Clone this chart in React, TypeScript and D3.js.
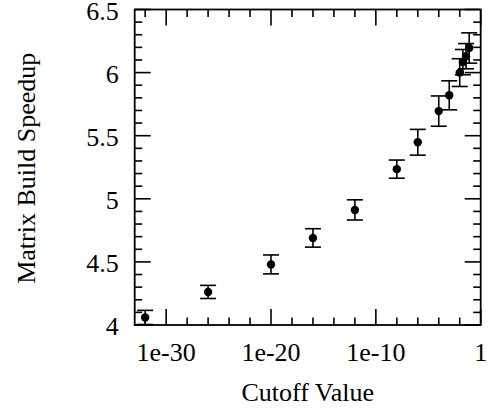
import React from "react";
import * as d3 from "d3";

const cutoffs = [1e-32, 1e-26, 1e-20, 1e-16, 1e-12, 1e-8, 1e-6, 1e-4, 1e-3, 1e-2, 2e-2, 4e-2, 8e-2];
const speedup = [4.06, 4.262, 4.48, 4.69, 4.912, 5.235, 5.448, 5.695, 5.82, 6.0, 6.083, 6.13, 6.195];
const errors = [0.056, 0.052, 0.075, 0.073, 0.08, 0.072, 0.102, 0.12, 0.115, 0.11, 0.1, 0.1, 0.12];

const xMajorExp = [-30, -20, -10, 0];
const xMajorLabels = ["1e-30", "1e-20", "1e-10", "1"];
const yMajor = [4, 4.5, 5, 5.5, 6, 6.5];
const yMajorLabels = ["4", "4.5", "5", "5.5", "6", "6.5"];

const W = 493;
const H = 410;
const M = { left: 134.7, right: 12.3, top: 9.5, bottom: 85 };
const FONT = "'Liberation Serif', 'Times New Roman', serif";

export default function App() {
  const x = d3.scaleLog().domain([1e-33, 1]).range([M.left, W - M.right]);
  const y = d3.scaleLinear().domain([4, 6.5]).range([H - M.bottom, M.top]);
  const x0 = M.left, x1 = W - M.right, y0 = H - M.bottom, y1 = M.top;

  const xMinorExp = d3.range(-32, 0, 2).filter((e) => !xMajorExp.includes(e));
  const yMinor = d3.range(40, 66, 1).map((v) => v / 10).filter((v) => Math.abs(v * 2 - Math.round(v * 2)) > 1e-6);

  const majLen = 16;
  const minLen = 7.5;
  const sw = 1.6;

  return (
    <svg width={W} height={H} style={{ position: "absolute", left: 0, top: 0, background: "#fff" }}>
      {xMajorExp.map((e) => (
        <g key={"xm" + e}>
          <line x1={x(Math.pow(10, e))} x2={x(Math.pow(10, e))} y1={y0} y2={y0 - majLen} stroke="#000" strokeWidth={sw} />
          <line x1={x(Math.pow(10, e))} x2={x(Math.pow(10, e))} y1={y1} y2={y1 + majLen} stroke="#000" strokeWidth={sw} />
        </g>
      ))}
      {xMinorExp.map((e) => (
        <g key={"xn" + e}>
          <line x1={x(Math.pow(10, e))} x2={x(Math.pow(10, e))} y1={y0} y2={y0 - minLen} stroke="#000" strokeWidth={sw} />
          <line x1={x(Math.pow(10, e))} x2={x(Math.pow(10, e))} y1={y1} y2={y1 + minLen} stroke="#000" strokeWidth={sw} />
        </g>
      ))}
      {yMajor.map((v) => (
        <g key={"ym" + v}>
          <line x1={x0} x2={x0 + majLen} y1={y(v)} y2={y(v)} stroke="#000" strokeWidth={sw} />
          <line x1={x1} x2={x1 - majLen} y1={y(v)} y2={y(v)} stroke="#000" strokeWidth={sw} />
        </g>
      ))}
      {yMinor.map((v) => (
        <g key={"yn" + v}>
          <line x1={x0} x2={x0 + minLen} y1={y(v)} y2={y(v)} stroke="#000" strokeWidth={sw} />
          <line x1={x1} x2={x1 - minLen} y1={y(v)} y2={y(v)} stroke="#000" strokeWidth={sw} />
        </g>
      ))}
      <rect x={x0} y={y1} width={x1 - x0} height={y0 - y1} fill="none" stroke="#000" strokeWidth={1.8} />

      {cutoffs.map((c, i) => {
        const cx = x(c);
        const top = y(speedup[i] + errors[i]);
        const bot = y(speedup[i] - errors[i]);
        return (
          <g key={"p" + i}>
            <line x1={cx} x2={cx} y1={top} y2={bot} stroke="#000" strokeWidth={1.6} />
            <line x1={cx - 8} x2={cx + 8} y1={top} y2={top} stroke="#000" strokeWidth={1.6} />
            <line x1={cx - 8} x2={cx + 8} y1={bot} y2={bot} stroke="#000" strokeWidth={1.6} />
            <circle cx={cx} cy={y(speedup[i])} r={4.2} fill="#000" />
          </g>
        );
      })}

      {xMajorExp.map((e, i) => (
        <text key={"xl" + e} x={x(Math.pow(10, e))} y={y0 + 36} textAnchor="middle" fontFamily={FONT} fontSize={26} fill="#000">
          {xMajorLabels[i]}
        </text>
      ))}
      {yMajor.map((v, i) => (
        <text key={"yl" + v} x={x0 - 16} y={y(v) + 10} textAnchor="end" fontFamily={FONT} fontSize={26} fill="#000">
          {yMajorLabels[i]}
        </text>
      ))}
      <text x={(x0 + x1) / 2} y={401} textAnchor="middle" fontFamily={FONT} fontSize={26} fill="#000">
        Cutoff Value
      </text>
      <text transform={`translate(35,${(y0 + y1) / 2 + 1}) rotate(-90)`} textAnchor="middle" fontFamily={FONT} fontSize={26} fill="#000">
        Matrix Build Speedup
      </text>
    </svg>
  );
}
